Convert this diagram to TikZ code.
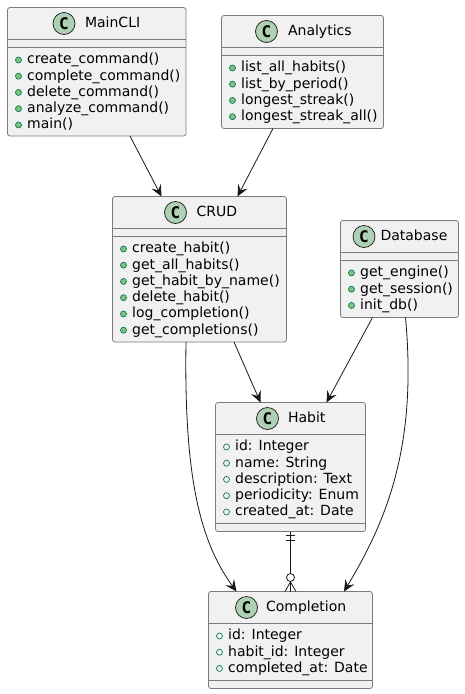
\documentclass[tikz,border=0pt]{standalone}
\usepackage{fontspec}
\setmainfont{DejaVu Sans}
\newfontfamily\spotfont{DejaVu Sans Mono}
\usetikzlibrary{positioning, arrows.meta}
\definecolor{umlfill}{HTML}{F1F1F1}
\definecolor{umlline}{HTML}{7A7A7A}
\definecolor{umlink}{HTML}{181818}
\definecolor{umlspot}{HTML}{ADD1B2}
\definecolor{umlgreen}{HTML}{038048}
\definecolor{umldot}{HTML}{84BE84}
\tikzset{
  classbox/.style={draw=umlline, fill=umlfill, rounded corners=2.5pt, line width=0.8pt,
        inner sep=0pt, outer sep=0pt, anchor=north west},
  spot/.style={circle, draw=umlink, fill=umlspot, line width=0.7pt, minimum size=22pt,
        inner sep=0pt, font=\spotfont\bfseries\fontsize{16}{16}\selectfont},
  classtitle/.style={font=\fontsize{14}{14}\selectfont, text=black, inner sep=0pt,
        text height=10.5pt, text depth=3pt},
  rowtext/.style={font=\fontsize{14}{14}\selectfont, text=black, inner sep=0pt, anchor=base west},
  pubdot/.style={circle, draw=umlgreen, fill=umldot, line width=0.7pt, minimum size=6pt, inner sep=0pt},
  fielddot/.style={circle, draw=umlgreen, fill=umlfill, line width=0.7pt, minimum size=6pt, inner sep=0pt},
  link/.style={draw=umlink, line width=0.8pt, -{Stealth[length=11.5pt, width=10.5pt, inset=4.5pt]}}
}
\begin{document}
\begin{tikzpicture}[x=1pt, y=-1pt]
  \useasboundingbox (0,0) rectangle (464,694);
  % class boxes with spot, title and separators
  \foreach \nm/\title/\xa/\ya/\w/\h/\spotx/\gap/\sepa/\sepb in {
      maincli/MainCLI/7.5/7.5/178.5/128.5/56.5/9.5/32/40,
      analytics/Analytics/221.5/15.5/162/113/45/10/32/40,
      crud/CRUD/112.5/196.5/174/145.5/63/9.5/32/40,
      database/Database/340.5/220.5/118/97/23.5/5/32/40,
      habit/Habit/215.5/402.5/150/129/52/9/32/121,
      completion/Completion/208.5/591.5/164/97/38/8/32/89}{
    \node[classbox, minimum width=\w pt, minimum height=\h pt] (\nm) at (\xa,\ya) {};
    \node[spot] (\nm-spot) at ({\xa+\spotx},{\ya+16}) {C};
    \node[classtitle, right=\gap pt of \nm-spot] (\nm-title) {\title};
    \draw[umlline, line width=0.8pt] ([yshift=-\sepa pt]\nm.north west) -- ([yshift=-\sepa pt]\nm.north east);
    \draw[umlline, line width=0.8pt] ([yshift=-\sepb pt]\nm.north west) -- ([yshift=-\sepb pt]\nm.north east);
  }
  % members
  \foreach \nm/\xa/\ya/\dotstyle/\rows in {
      maincli/7.5/47.5/pubdot/{create\_command(),complete\_command(),delete\_command(),analyze\_command(),main()},
      analytics/221.5/55.5/pubdot/{list\_all\_habits(),list\_by\_period(),longest\_streak(),longest\_streak\_all()},
      crud/112.5/236.5/pubdot/{create\_habit(),get\_all\_habits(),get\_habit\_by\_name(),delete\_habit(),log\_completion(),get\_completions()},
      database/340.5/260.5/pubdot/{get\_engine(),get\_session(),init\_db()},
      habit/215.5/434.5/fielddot/{id: Integer,name: String,description: Text,periodicity: Enum,created\_at: Date},
      completion/208.5/623.5/fielddot/{id: Integer,habit\_id: Integer,completed\_at: Date}}{
    \foreach \lab [count=\i] in \rows {
      \node[rowtext] (\nm-row\i) at ({\xa+19.5},{\ya+0.2+16.25*\i}) {\lab};
      \node[\dotstyle] (\nm-dot\i) at ({\xa+11},{\ya-3.8+16.25*\i}) {};
    }
  }
  % dependencies
  \draw[link] ([xshift=33.25pt]maincli.south) -- ([xshift=-38pt]crud.north);
  \draw[link] ([xshift=-29.5pt]analytics.south) -- ([xshift=38pt]crud.north);
  \draw[link] ([xshift=34.5pt]crud.south) -- ([xshift=-30pt]habit.north);
  \draw[link] ([xshift=-27pt]database.south) -- ([xshift=36pt]habit.north);
  \draw[link] ([xshift=-13.5pt]crud.south) .. controls +(-2,130) and +(-38,-52) .. ([xshift=-54pt]completion.north);
  \draw[link] ([xshift=6pt]database.south) .. controls +(12,130) and +(42,-70) .. ([xshift=53.5pt]completion.north);
  % habit to completion
  \node[circle, draw=umlink, fill=white, line width=0.8pt, minimum size=8pt, inner sep=0pt] (crow) at (290.5,577.5) {};
  \coordinate (barA) at (290.5,535);
  \coordinate (barB) at (290.5,540);
  \draw[umlink, line width=0.8pt] (habit.south) -- (crow);
  \draw[umlink, line width=0.8pt] ([xshift=-4.5pt]barA) -- ([xshift=4.5pt]barA);
  \draw[umlink, line width=0.8pt] ([xshift=-4.5pt]barB) -- ([xshift=4.5pt]barB);
  \draw[umlink, line width=0.8pt] ([xshift=-5.5pt]completion.north) -- (crow.south);
  \draw[umlink, line width=0.8pt] ([xshift=5.5pt]completion.north) -- (crow.south);
  \draw[umlink, line width=0.8pt] (crow.south) -- (completion.north);
\end{tikzpicture}
\end{document}
